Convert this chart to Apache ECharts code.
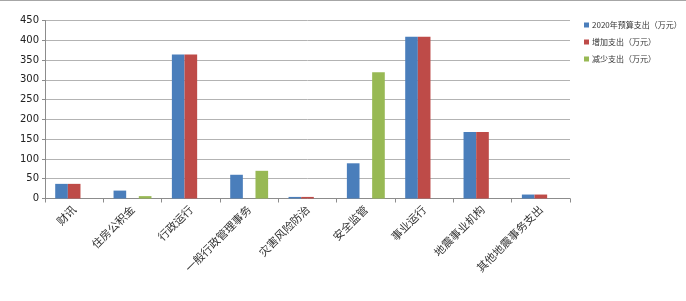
<!DOCTYPE html>
<html><head><meta charset="utf-8">
<script src="https://cdn.jsdelivr.net/npm/echarts@6/dist/echarts.min.js"></script>
<style>html,body{margin:0;padding:0;background:#fff}#c{width:686px;height:301px}</style>
</head><body><div id="c"></div>
<script>
const categories = ['财讯','住房公积金','行政运行','一般行政管理事务','灾害风险防治','安全监管','事业运行','地震事业机构','其他地震事务支出'];
const seriesNames = ['2020年预算支出（万元）','增加支出（万元）','减少支出（万元）'];
const budget = [37, 20, 364, 60, 4, 89, 409, 168, 10];
const increase = [37, 0, 364, 0, 4, 0, 409, 168, 10];
const decrease = [0, 6, 0, 70, 0, 319, 0, 0, 0];
const colors = ['#4a7ebb', '#be4b48', '#98b954'];

const chart = echarts.init(document.getElementById('c'));
chart.setOption({
  animation: false,
  textStyle: {fontFamily: 'Noto Sans CJK SC, DejaVu Sans, sans-serif'},
  graphic: [{type: 'line', shape: {x1: 0, y1: 0.5, x2: 686, y2: 0.5}, style: {stroke: '#a6a6a6', lineWidth: 1}}],
  legend: {
    orient: 'vertical', left: 579, top: 16, itemWidth: 5, itemHeight: 5, itemGap: 9,
    icon: 'rect',
    textStyle: {fontSize: 8, color: '#333', padding: [0,0,0,-2]},
    data: seriesNames
  },
  grid: {left: 45, right: 116, top: 20.5, bottom: 102.5, containLabel: false},
  xAxis: {
    type: 'category', data: categories,
    axisLine: {lineStyle: {color: '#8c8c8c'}},
    axisTick: {show: true, length: 4, lineStyle: {color: '#8c8c8c'}},
    axisLabel: {rotate: 45, fontSize: 11, color: '#333', margin: 9, interval: 0}
  },
  yAxis: {
    type: 'value', min: 0, max: 450, interval: 50,
    axisLine: {show: true, lineStyle: {color: '#8c8c8c'}},
    axisTick: {show: true, length: 3, lineStyle: {color: '#8c8c8c'}},
    axisLabel: {fontSize: 10, color: '#222', margin: 6, fontFamily: 'DejaVu Sans'},
    splitLine: {lineStyle: {color: '#b3b3b3'}}
  },
  series: [
    {name: seriesNames[0], type: 'bar', data: budget, itemStyle: {color: colors[0]}, barGap: '0%', barCategoryGap: '35%'},
    {name: seriesNames[1], type: 'bar', data: increase, itemStyle: {color: colors[1]}},
    {name: seriesNames[2], type: 'bar', data: decrease, itemStyle: {color: colors[2]}}
  ]
});
</script></body></html>
